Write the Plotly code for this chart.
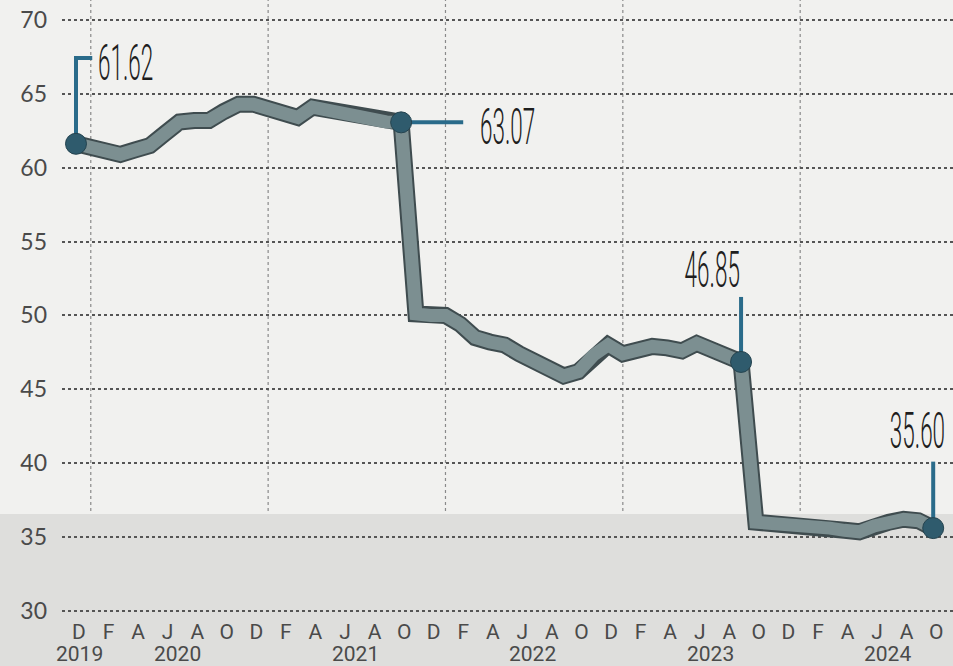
import json
import plotly.graph_objects as go

# ---- data ----
periods = ["2019-12"] + [f"{y}-{m:02d}" for y in range(2020, 2025) for m in range(1, 13)]
periods = periods[:59]  # Dec 2019 .. Oct 2024
values = [61.62, 61.4, 61.0, 60.9, 61.2, 61.5, 62.3, 63.1, 63.2, 63.2, 63.8, 64.3,
          64.3, 64.0, 63.5, 63.4, 64.1, 63.9, 63.6, 63.5, 63.2, 63.1, 63.07,
          50.1, 50.0, 50.0, 49.4, 48.5, 48.2, 48.0, 47.4, 47.0, 46.4, 45.9, 46.2, 47.3,
          48.0, 47.4, 47.7, 47.9, 47.8, 47.6, 48.1, 47.7, 47.3, 46.85,
          36.0, 35.95, 35.85, 35.7, 35.65, 35.6, 35.45, 35.35, 35.75, 36.0, 36.2, 36.1, 35.60]
month_letters = ["D", "F", "A", "J", "A", "O"]
years = ["2019", "2020", "2021", "2022", "2023", "2024"]
y_ticks = [30, 35, 40, 45, 50, 55, 60, 65, 70]
callout_idx = [0, 22, 45, 58]
callout_text = ["61.62", "63.07", "46.85", "35.60"]

idx = list(range(len(values)))

BG = "#f1f1ef"
LINE_DARK = "#3f4c4f"
LINE_FILL = "#7c8f91"
DOT = "#2f5b6d"
CALL = "#2a6b8a"
TXT = "#4a4a4a"
NUM_FONT = "Roboto, sans-serif"

fig = go.Figure()

# thick line with dark outline
fig.add_trace(go.Scatter(x=idx, y=values, mode="lines",
                         line=dict(color=LINE_DARK, width=17), hoverinfo="skip", showlegend=False))
fig.add_trace(go.Scatter(x=idx, y=values, mode="lines",
                         line=dict(color=LINE_FILL, width=13), hoverinfo="skip", showlegend=False))

shapes = []
annotations = []

# callout lines (elbow / straight) derived from the data points
c0, c1, c2, c3 = callout_idx
v0, v1, v2, v3 = (values[i] for i in callout_idx)
callout_paths = [
    [(c0, v0), (c0, v0 + 5.8), (c0 + 1.1, v0 + 5.8)],
    [(c1, v1), (c1 + 4.2, v1)],
    [(c2, v2), (c2, v2 + 4.4)],
    [(c3, v3), (c3, v3 + 4.5)],
]
for pts in callout_paths:
    fig.add_trace(go.Scatter(x=[p[0] for p in pts], y=[p[1] for p in pts], mode="lines",
                             line=dict(color=CALL, width=4), hoverinfo="skip", showlegend=False))

# dots
fig.add_trace(go.Scatter(x=callout_idx, y=[values[i] for i in callout_idx], mode="markers",
                         marker=dict(color=DOT, size=21, line=dict(color="#24434f", width=1)),
                         hoverinfo="skip", showlegend=False))

# callout labels
label_pos = [
    (c0 + 1.35, v0 + 5.5, "left"),
    (c1 + 5.2, v1 - 0.3, "left"),
    (c2 + 0.05, v2 + 6.2, "right"),
    (c3 - 1.05, v3 + 6.6, "center"),
]
anchor_map = {}
for (x, y, anc), t in zip(label_pos, callout_text):
    anchor_map[t] = anc
    annotations.append(dict(x=x, y=y, xref="x", yref="y", text=t, showarrow=False,
                            xanchor=anc, yanchor="middle",
                            font=dict(family=NUM_FONT, size=50, color="#1e1e1e", weight=300)))

# vertical year separators (January of each year), extending through label area
for k in range(1, 6):
    shapes.append(dict(type="line", xref="x", yref="paper", x0=1 + 12 * (k - 1), x1=1 + 12 * (k - 1),
                       y0=-0.09, y1=1, line=dict(color="#8a8a8a", width=1.2, dash="dot"), layer="below"))

# gray band of the scanned paper
shapes.append(dict(type="rect", xref="paper", yref="paper", x0=-0.08, x1=1, y0=-0.09, y1=0.16,
                   fillcolor="#dededc", line=dict(width=0), layer="below"))

# year labels
year_first = [0, 1, 13, 25, 37, 49]
for yr, f in zip(years, year_first):
    xc = 0.25 if yr == "2019" else f + 5.9
    annotations.append(dict(x=xc, y=-0.068, xref="x", yref="paper", text=yr, showarrow=False,
                            xanchor="center", yanchor="middle",
                            font=dict(family="Roboto", size=21, color=TXT)))

tickvals = list(range(0, 59, 2))
ticktext = [month_letters[i % 6] for i in range(len(tickvals))]

fig.update_layout(
    width=953, height=666,
    margin=dict(l=62, r=0, t=0, b=54),
    paper_bgcolor=BG, plot_bgcolor="rgba(0,0,0,0)",
    shapes=shapes, annotations=annotations,
    xaxis=dict(range=[-0.947, 59.34], tickvals=tickvals, ticktext=ticktext,
               showgrid=False, zeroline=False, showline=False, ticks="",
               tickfont=dict(family="Roboto", size=21, color=TXT), ticklabelstandoff=5,
               ticklabelshift=3),
    yaxis=dict(range=[29.92, 71.354], tickvals=y_ticks, showgrid=True,
               gridcolor="#555555", griddash="dot", gridwidth=1.5,
               zeroline=False, showline=False, ticks="",
               tickfont=dict(family="Lato", size=23, color=TXT), ticklabelstandoff=14),
)

post_js = """
document.body.style.margin = '0';
document.body.style.overflow = 'hidden';
var anchors = __ANCHORS__;
var sx = 0.45;
document.querySelectorAll('g.annotation text.annotation-text').forEach(function (t) {
  var s = t.textContent.trim();
  if (Object.prototype.hasOwnProperty.call(anchors, s)) {
    var b = t.getBBox();
    var a = anchors[s];
    var ax = a === 'left' ? b.x : (a === 'right' ? b.x + b.width : b.x + b.width / 2);
    t.setAttribute('transform', 'translate(' + ax + ',0) scale(' + sx + ',1) translate(' + (-ax) + ',0)');
  }
});
""".replace("__ANCHORS__", json.dumps(anchor_map))

fig.write_html("out.html", post_script=post_js, config={"displayModeBar": False})
